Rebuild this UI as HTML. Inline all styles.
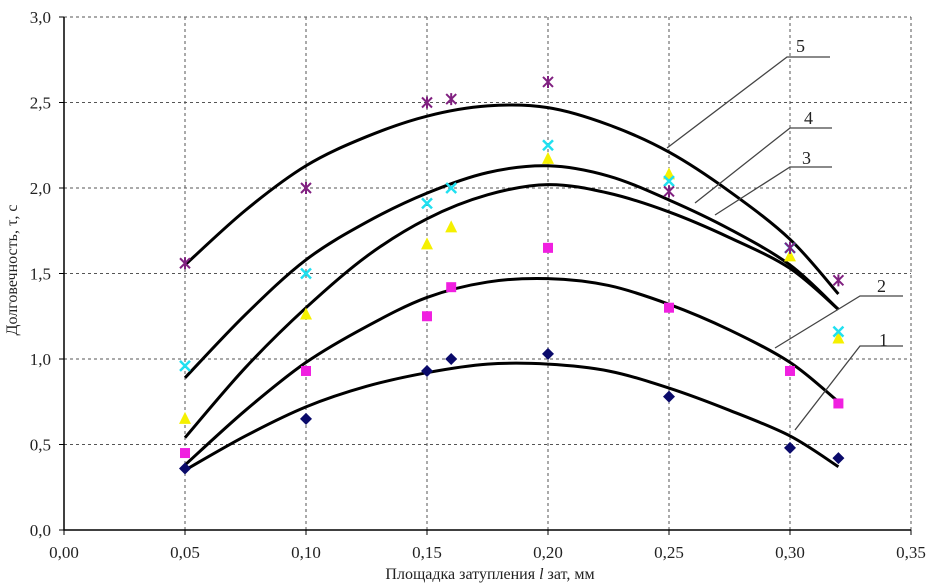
<!DOCTYPE html>
<html><head><meta charset="utf-8"><style>
body{margin:0;background:#fff}
svg text{font-family:"Liberation Serif",serif;fill:#222}
</style></head><body>
<svg id="c" width="931" height="583"></svg>
<script>
const xTicks=[0,0.05,0.10,0.15,0.20,0.25,0.30,0.35];
const xTickLabels=["0,00","0,05","0,10","0,15","0,20","0,25","0,30","0,35"];
const yTicks=[0,0.5,1.0,1.5,2.0,2.5,3.0];
const yTickLabels=["0,0","0,5","1,0","1,5","2,0","2,5","3,0"];
const pointX=[0.05,0.10,0.15,0.16,0.20,0.25,0.30,0.32];
const s1=[0.36,0.65,0.93,1.0,1.03,0.78,0.48,0.42];
const s2=[0.45,0.93,1.25,1.42,1.65,1.3,0.93,0.74];
const s3=[0.65,1.26,1.67,1.77,2.17,2.08,1.6,1.12];
const s4=[0.96,1.5,1.91,2.0,2.25,2.04,1.65,1.16];
const s5=[1.56,2.0,2.5,2.52,2.62,1.98,1.65,1.46];
const curveX=[0.05,0.075,0.10,0.125,0.15,0.175,0.20,0.225,0.25,0.275,0.30,0.32];
const c1=[0.35,0.55,0.72,0.84,0.92,0.97,0.97,0.93,0.83,0.70,0.55,0.37];
const c2=[0.38,0.70,0.98,1.19,1.36,1.45,1.47,1.43,1.32,1.17,0.98,0.75];
const c3=[0.54,0.95,1.30,1.60,1.82,1.96,2.02,1.97,1.86,1.71,1.53,1.29];
const c4=[0.89,1.26,1.58,1.80,1.97,2.09,2.13,2.07,1.93,1.76,1.55,1.29];
const c5=[1.55,1.87,2.13,2.30,2.42,2.48,2.47,2.37,2.21,1.98,1.70,1.38];

const NS="http://www.w3.org/2000/svg",svg=document.getElementById('c');
const X=v=>64+v/0.35*847, Y=v=>530-v/3*513;
function el(t,a,p){const e=document.createElementNS(NS,t);for(const k in a)e.setAttribute(k,a[k]);(p||svg).appendChild(e);return e;}
xTicks.forEach((t,i)=>{
 if(i>0){const g=el('line',{x1:X(t),x2:X(t),y1:Y(3),y2:Y(0),stroke:'#555','stroke-dasharray':'3,3','stroke-width':1});
 }
 const l=el('text',{x:X(t),y:558,'text-anchor':'middle','font-size':17});l.textContent=xTickLabels[i];
 
});
yTicks.forEach((t,i)=>{
 if(i>0){const g=el('line',{x1:X(0),x2:X(0.35),y1:Y(t),y2:Y(t),stroke:'#555','stroke-dasharray':'3,3','stroke-width':1});
 }
 const l=el('text',{x:51,y:Y(t)+6,'text-anchor':'end','font-size':17});l.textContent=yTickLabels[i];
 
 el('line',{x1:X(0)-5,x2:X(0),y1:Y(t),y2:Y(t),stroke:'#000'});
});
const ax=el('path',{d:`M${X(0)},${Y(3)}V${Y(0)}H${X(0.35)}`,fill:'none',stroke:'#000','stroke-width':1.5});

xTicks.forEach(t=>el('line',{x1:X(t),x2:X(t),y1:Y(0),y2:Y(0)+5,stroke:'#000'}));
function smooth(xs,ys){const p=xs.map((x,i)=>[X(x),Y(ys[i])]);let d=`M${p[0][0]},${p[0][1]}`;
 for(let i=0;i<p.length-1;i++){const p0=p[i-1]||p[i],p1=p[i],p2=p[i+1],p3=p[i+2]||p2;
 d+=`C${p1[0]+(p2[0]-p0[0])/6},${p1[1]+(p2[1]-p0[1])/6} ${p2[0]-(p3[0]-p1[0])/6},${p2[1]-(p3[1]-p1[1])/6} ${p2[0]},${p2[1]}`;}return d;}
[[c1,'curve-1'],[c2,'curve-2'],[c3,'curve-3'],[c4,'curve-4'],[c5,'curve-5']].forEach(([c,n])=>{
 const p=el('path',{d:smooth(curveX,c),fill:'none',stroke:'#000','stroke-width':3});
 
});
function marker(type,x,y){const cx=X(x),cy=Y(y);let e;
 if(type==1)e=el('path',{d:`M${cx},${cy-6}L${cx+6},${cy}L${cx},${cy+6}L${cx-6},${cy}Z`,fill:'#0a0a6a'});
 else if(type==2)e=el('rect',{x:cx-5,y:cy-5,width:10,height:10,fill:'#f020e0'});
 else if(type==3)e=el('path',{d:`M${cx},${cy-7}L${cx+6},${cy+5}L${cx-6},${cy+5}Z`,fill:'#f5f000'});
 else if(type==4)e=el('path',{d:`M${cx-5},${cy-5}L${cx+5},${cy+5}M${cx+5},${cy-5}L${cx-5},${cy+5}`,stroke:'#20e0f0','stroke-width':2.5});
 else e=el('path',{d:`M${cx-5},${cy-5}L${cx+5},${cy+5}M${cx+5},${cy-5}L${cx-5},${cy+5}M${cx},${cy-6}V${cy+6}`,stroke:'#802080','stroke-width':2});
 return e;}
[s1,s2,s3,s4,s5].forEach((s,k)=>s.forEach((v,i)=>{const m=marker(k+1,pointX[i],v);
 }));
const labels=[['5',796,52,787,57,830,667,148],['4',804,124,790,128,832,695,203],['3',802,164,790,167,832,715,215],['2',877,292,860,296,903,775,348],['1',879,346,860,346,903,795,430]];
labels.forEach(([t,tx,ty,lx,ly,lx2,ex,ey])=>{
 el('path',{d:`M${ex},${ey}L${lx},${ly}H${lx2}`,fill:'none',stroke:'#444','stroke-width':1.3});
 const e=el('text',{x:tx,y:ty,'font-size':18});e.textContent=t;
 
});
const yt=el('text',{x:0,y:0,'font-size':16,'text-anchor':'middle',transform:'translate(17,270) rotate(-90)'});
yt.textContent='Долговечность, τ, с';
const xt=el('text',{x:490,y:579,'font-size':16,'text-anchor':'middle'});
xt.innerHTML='Площадка затупления <tspan font-style="italic">l</tspan> зат, мм';

</script></body></html>
